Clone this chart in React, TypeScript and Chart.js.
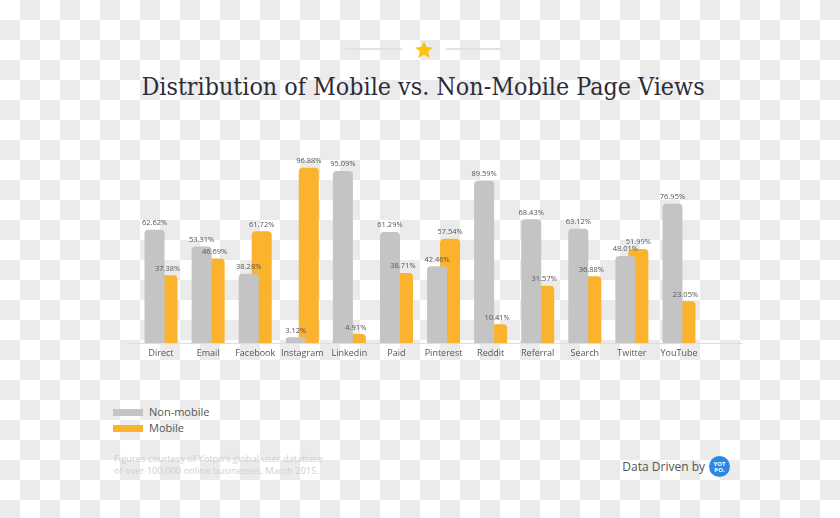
import React, { useEffect, useRef } from "react";
import { Chart, registerables } from "chart.js";

Chart.register(...registerables);

const categories = ["Direct", "Email", "Facebook", "Instagram", "Linkedin", "Paid", "Pinterest", "Reddit", "Referral", "Search", "Twitter", "YouTube"];
const nonMobile = [62.62, 53.31, 38.28, 3.12, 95.09, 61.29, 42.46, 89.59, 68.43, 63.12, 48.01, 76.95];
const mobile = [37.38, 46.69, 61.72, 96.88, 4.91, 38.71, 57.54, 10.41, 31.57, 36.88, 51.99, 23.05];
const seriesNames = ["Non-mobile", "Mobile"];

const GRAY = "#c4c4c4";
const ORANGE = "#fbb22c";

const valueLabels = {
  id: "valueLabels",
  afterDatasetsDraw(chart: any) {
    const ctx = chart.ctx;
    ctx.save();
    ctx.font = '7.5px "Open Sans", sans-serif';
    ctx.fillStyle = "#555555";
    ctx.textAlign = "center";
    ctx.textBaseline = "bottom";
    chart.data.datasets.forEach((ds: any, di: number) => {
      const meta = chart.getDatasetMeta(di);
      meta.data.forEach((el: any, i: number) => {
        ctx.fillText(Number(ds.data[i]).toFixed(2) + "%", el.x, el.y - 3);
      });
    });
    ctx.restore();
  },
};

const baseLine = {
  id: "baseLine",
  beforeDatasetsDraw(chart: any) {
    const { ctx, chartArea } = chart;
    ctx.save();
    ctx.strokeStyle = "#dedede";
    ctx.lineWidth = 1;
    ctx.beginPath();
    ctx.moveTo(chartArea.left - 11, chartArea.bottom + 0.5);
    ctx.lineTo(chartArea.right + 40, chartArea.bottom + 0.5);
    ctx.stroke();
    ctx.restore();
  },
};

function BarChart() {
  const ref = useRef<HTMLCanvasElement | null>(null);
  useEffect(() => {
    if (!ref.current) return;
    const chart = new Chart(ref.current, {
      type: "bar",
      data: {
        labels: categories,
        datasets: [
          { label: seriesNames[0], data: nonMobile, backgroundColor: GRAY, borderRadius: { topLeft: 4, topRight: 4 }, borderSkipped: "start" },
          { label: seriesNames[1], data: mobile, backgroundColor: ORANGE, borderRadius: { topLeft: 4, topRight: 4 }, borderSkipped: "start" },
        ],
      },
      options: {
        responsive: false,
        animation: false,
        layout: { padding: { left: 37.5, right: 57.5, top: 32, bottom: 0 } },
        datasets: { bar: { categoryPercentage: 0.552, barPercentage: 1.54 } },
        plugins: { legend: { display: false }, tooltip: { enabled: false } },
        scales: {
          x: {
            grid: { display: false, drawTicks: false },
            border: { display: false },
            ticks: { color: "#555", font: { family: '"Open Sans", sans-serif', size: 9 }, padding: 5, maxRotation: 0 },
            afterFit: (s: any) => { s.height = 37; },
          },
          y: { display: false, min: 0, max: 100 },
        },
      },
      plugins: [baseLine, valueLabels],
    });
    return () => chart.destroy();
  }, []);
  return <canvas ref={ref} width={660} height={250} style={{ position: "absolute", left: 100, top: 130, width: 660, height: 250 }} />;
}

export default function App() {
  return (
    <div style={{ position: "absolute", left: 0, top: 0, width: 840, height: 518, overflow: "hidden", background: "repeating-conic-gradient(#ebebeb 0 25%, #ffffff 0 50%) 0 0 / 40px 40px", fontFamily: '"Open Sans", sans-serif' }}>
      <div style={{ position: "absolute", left: 345, top: 48, width: 57, height: 2, background: "#e2e2e2" }} />
      <div style={{ position: "absolute", left: 446, top: 48, width: 56, height: 2, background: "#e2e2e2" }} />
      <svg style={{ position: "absolute", left: 414, top: 40 }} width={20} height={20} viewBox="0 0 20 20">
        <polygon points="10,1 12.6,7 19,7.4 14.1,11.6 15.7,18 10,14.5 4.3,18 5.9,11.6 1,7.4 7.4,7" fill="#fcc20d" />
      </svg>
      <div style={{ position: "absolute", left: 0, width: 846, top: 72, textAlign: "center", fontFamily: '"DejaVu Serif", serif', fontStretch: "condensed", fontSize: 24.8, color: "#2d2d3a", whiteSpace: "nowrap" }}>
        Distribution of Mobile vs. Non-Mobile Page Views
      </div>
      <BarChart />
      <div style={{ position: "absolute", left: 113, top: 404, fontSize: 11, color: "#555", lineHeight: "16px" }}>
        <div style={{ display: "flex", alignItems: "center" }}>
          <span style={{ display: "inline-block", width: 30, height: 7, background: GRAY, marginRight: 6 }} />
          {seriesNames[0]}
        </div>
        <div style={{ display: "flex", alignItems: "center" }}>
          <span style={{ display: "inline-block", width: 30, height: 7, background: ORANGE, marginRight: 6 }} />
          {seriesNames[1]}
        </div>
      </div>
      <div style={{ position: "absolute", left: 114, top: 453, fontSize: 9.3, color: "#d0d0d0", lineHeight: "12px", whiteSpace: "nowrap" }}>
        Figures courtesy of Yotpo's global user database<br />of over 100,000 online businesses, March 2015.
      </div>
      <div style={{ position: "absolute", left: 555, width: 150, top: 458, textAlign: "right", fontSize: 12, color: "#555", lineHeight: "17px", whiteSpace: "nowrap" }}>
        Data Driven by
      </div>
      <div style={{ position: "absolute", left: 709, top: 456, width: 21, height: 21, borderRadius: "50%", background: "#2b87e6", color: "#fff", fontSize: 6, fontWeight: 700, lineHeight: "6px", textAlign: "center", display: "flex", flexDirection: "column", justifyContent: "center" }}>
        <span>YOT</span><span>PO.</span>
      </div>
    </div>
  );
}
